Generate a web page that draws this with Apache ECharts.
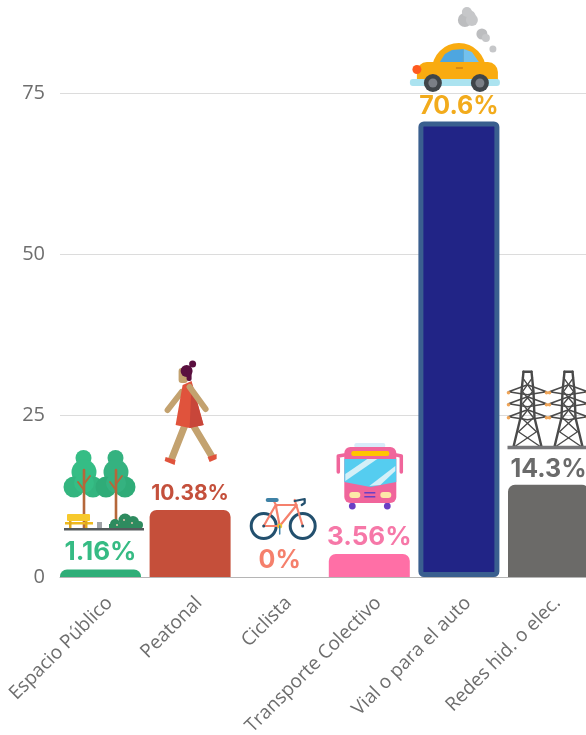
<!DOCTYPE html>
<html><head><meta charset="utf-8">
<style>html,body{margin:0;padding:0;background:#fff}#c{width:586px;height:735px}</style>
<script src="https://cdn.jsdelivr.net/npm/echarts@6/dist/echarts.min.js"></script>
</head><body><div id="c"></div>
<script>
const categories = ['Espacio Público','Peatonal','Ciclista','Transporte Colectivo','Vial o para el auto','Redes hid. o elec.'];
const values = [1.16,10.38,0,3.56,70.6,14.3];
const barColors = ['#2fae78','#c54f3a','#f5806c','#ff6fa6','#212486','#6b6a68'];
const labelColors = ['#36bb84','#c4503c','#f5806c','#f678a8','#f2ab1c','#6a6a6a'];
const labelSizes = [26,21,25,26,25,25];
const labelGaps = [4,6,4,4,2,3];

function circle(cx,cy,r,fill){return {type:'circle',shape:{cx,cy,r},style:{fill}};}
function rect(x,y,width,height,fill,r){return {type:'rect',shape:{x,y,width,height,r:r||0},style:{fill}};}
function poly(points,fill){return {type:'polygon',shape:{points},style:{fill}};}
function line(points,stroke,lineWidth){return {type:'polyline',shape:{points},style:{stroke,lineWidth,fill:null,lineCap:'round',lineJoin:'round'}};}
function ring(cx,cy,r,stroke,lineWidth){return {type:'circle',shape:{cx,cy,r},style:{stroke,lineWidth,fill:null}};}

function tree(x,c1,c2){return [
  circle(x-.5,458,8,c1),circle(x,472,12.5,c1),circle(x-10,487,10.5,c2),circle(x+9,487,10.5,c2),circle(x,483,10,c1),
  line([[x,470],[x,528]],'#b5673a',2.6),line([[x,490],[x-6,482]],'#b5673a',2),line([[x,484],[x+6,476]],'#b5673a',2)];}
const parkIcon = ()=>[...tree(84,'#35bd85','#33b57f'),...tree(116,'#35b280','#2fac78'),
  rect(67,514,23,7,'#f7c92c',1),rect(65,522,28,2.5,'#eeb91f'),rect(69,521,2.5,7,'#e0a81c'),rect(85,521,2.5,7,'#e0a81c'),
  rect(97,522,5,6,'#a0a4a8'),
  circle(115,524,5,'#2e8b5f'),circle(125,520,6.5,'#2e8b5f'),circle(133,522,6,'#2e8b5f'),circle(139,525,4,'#2e8b5f'),rect(109,524,33,5,'#2e8b5f'),
  circle(124,520,1,'#e6c7b0'),circle(132,523,1,'#e6c7b0'),circle(117,525,1,'#e6c7b0'),
  rect(64,528,80,2.5,'#555a5c')];
const walkerIcon = ()=>[
  line([[185,426],[172,459]],'#c3a26f',7),line([[194,426],[212,456]],'#c3a26f',7),
  poly([[166,457],[176,460],[175,465],[165,461]],'#e0533c'),poly([[208,457],[217,454],[217,459],[210,462]],'#e0533c'),
  line([[182,392],[168,410]],'#c3a26f',6),
  poly([[183,385],[192,381],[204,425],[190,428],[176,425]],'#e0533c'),poly([[192,383],[204,425],[190,428]],'#c8463a'),
  line([[190,387],[206,409]],'#c3a26f',6),
  rect(179,368,9,15,'#c3a26f',3),circle(187,371,6,'#5a0f3f'),rect(187,368,5,13,'#5a0f3f',2),circle(193,364,3.5,'#5a0f3f')];
const bikeIcon = ()=>[
  ring(264,526,12.5,'#23506e',3),ring(303,526,12.5,'#23506e',3),
  line([[264,526],[276,505],[297,505],[280,526],[264,526]],'#f5806c',2.2),line([[276,505],[280,526]],'#f5806c',2.2),
  line([[295,500],[303,526]],'#f5806c',2.2),line([[274,501],[277,506]],'#f5806c',2),
  rect(266,498,13,4,'#3f82a6',2),line([[295,501],[305,499],[305,503],[302,505]],'#23506e',2.2),
  circle(280,526,2.5,'#f4c430'),line([[280,526],[280,534]],'#3f82a6',1.5),circle(264,526,1.5,'#23506e'),circle(303,526,1.5,'#23506e')];
const busIcon = ()=>[
  rect(355,443,31,5,'#d8ecfa',2),
  circle(353,506,3.4,'#6a3fc4'),circle(388,506,3.4,'#6a3fc4'),
  line([[345,455],[339,456],[339,472]],'#f0659b',3.5),line([[397,455],[402,456],[402,472]],'#f0659b',3.5),
  rect(345,447,52,56,'#f0659b',6),
  poly([[345,459],[397,459],[397,482],[371,487],[345,482]],'#55cdf0'),
  poly([[346,474],[368,459],[378,459],[346,481]],'#d4f0f8'),poly([[370,486],[396,466],[396,471],[381,485]],'#d4f0f8'),
  rect(352,451,38,5,'#ffc400',2),
  rect(350,492,11,6,'#fde9a8',3),rect(381,492,11,6,'#fde9a8',3),
  rect(365,492,11,1.5,'#6a3fc4'),rect(365,496,11,1.5,'#6a3fc4')];
const carIcon = ()=>[
  circle(470,17,7,'#c6c7c9'),circle(466,20,7,'#bcbdbf'),circle(473,20,6,'#c6c7c9'),circle(468,12,5,'#c6c7c9'),
  circle(483,34,5.5,'#bcbdbf'),circle(487,38,4,'#c6c7c9'),circle(494,49,3.5,'#c6c7c9'),
  {type:'sector',shape:{cx:460,cy:70,r:27,startAngle:Math.PI,endAngle:2*Math.PI},style:{fill:'#f9ab10'}},
  rect(418,62,81,19,'#f9ab10',[10,10,0,0]),
  poly([[441,62],[446,54],[453,50],[465,49],[465,62]],'#4ea6e0'),poly([[465,49],[473,52],[480,62],[465,62]],'#72c1ee'),
  rect(457,67,7,2,'#d98a10'),
  rect(411,79,90,7,'#abe3f0',3),
  circle(434,83,9,'#3f4549'),circle(434,83,4.5,'#7a7f86'),circle(481,83,9,'#3f4549'),circle(481,83,4.5,'#7a7f86'),
  circle(418,69.5,4.5,'#ff5a1f')];
function tower(x){
  const d='#4a4a4a',o='#f0a65a',s=[];
  s.push(line([[x-4,372],[x-6,392],[x-7,418],[x-14,447]],d,2.4),line([[x+4,372],[x+6,392],[x+7,418],[x+14,447]],d,2.4),line([[x-4,372],[x+4,372]],d,2.4));
  [[392,19],[404,19],[417,19]].forEach(a=>{
    s.push(line([[x-a[1],a[0]],[x,a[0]-7],[x+a[1],a[0]],[x,a[0]+3],[x-a[1],a[0]]],d,1.6));
    s.push(circle(x-a[1],a[0]+1,1.8,o),circle(x+a[1],a[0]+1,1.8,o));});
  s.push(line([[x-5,378],[x+5,392],[x-5,404],[x+6,418],[x-9,432],[x+13,447]],d,1.4),
         line([[x+5,378],[x-5,392],[x+5,404],[x-6,418],[x+9,432],[x-13,447]],d,1.4));
  return s;}
const towerIcon = ()=>[...tower(528),...tower(569),rect(508,446,80,3.5,'#77777a')];
const icons = [parkIcon,walkerIcon,bikeIcon,busIcon,carIcon,towerIcon];
const anchors = [[100.5,569.5],[190.5,510],[280,577],[370,554],[460,121.4],[549,485]];

const chart = echarts.init(document.getElementById('c'),null,{renderer:'canvas'});
const noBounds = {outerBoundsMode:'none'};
chart.setOption({
  animation:false,
  grid:[{left:60,top:93,width:526,height:484,...noBounds},
        {left:55.7,top:93,width:537.6,height:484,...noBounds},
        {left:64.7,top:93,width:537.6,height:484,...noBounds}],
  xAxis:[
    {gridIndex:0,type:'value',min:0,max:1,axisLine:{show:true,onZero:false,lineStyle:{color:'#b5b5b5',width:1}},axisTick:{show:false},axisLabel:{show:false},splitLine:{show:false}},
    {gridIndex:1,type:'category',data:categories,axisLine:{show:false},axisTick:{show:false},axisLabel:{show:false}},
    {gridIndex:2,type:'category',data:categories,axisLine:{show:false},axisTick:{show:false},
     axisLabel:{interval:0,rotate:45,margin:23,fontFamily:'Open Sans',fontSize:19,color:'#6e6e6e'}}
  ],
  yAxis:[
    {gridIndex:0,type:'value',min:0,max:75,interval:25,axisLine:{show:false},axisTick:{show:false},
     axisLabel:{margin:15,fontFamily:'Open Sans',fontSize:20,color:'#6e6e6e'},
     splitLine:{lineStyle:{color:'#dcdcdc',width:1}}},
    {gridIndex:1,type:'value',min:0,max:75,interval:25,show:false},
    {gridIndex:2,type:'value',min:0,max:75,interval:25,show:false}
  ],
  series:[
    {type:'bar',xAxisIndex:1,yAxisIndex:1,barWidth:81,clip:false,
     data:values.map((v,i)=>({value:v,
       itemStyle:i===4?{color:barColors[i],borderColor:'#3a5f8f',borderWidth:5,borderRadius:3}
                      :{color:barColors[i],borderRadius:[7,7,0,0]},
       label:{color:labelColors[i],fontSize:labelSizes[i],distance:labelGaps[i]}})),
     label:{show:true,position:'top',fontFamily:'Inter',fontWeight:'bold',formatter:p=>p.value+'%'}},
    {type:'custom',xAxisIndex:1,yAxisIndex:1,clip:false,silent:true,z:5,
     data:values.map((v,i)=>[i,v]),
     renderItem:(params,api)=>{
       const i=api.value(0),p=api.coord([i,api.value(1)]),a=anchors[i];
       return {type:'group',x:p[0]-a[0],y:p[1]-a[1],children:icons[i]()};
     }}
  ]
});
</script></body></html>
